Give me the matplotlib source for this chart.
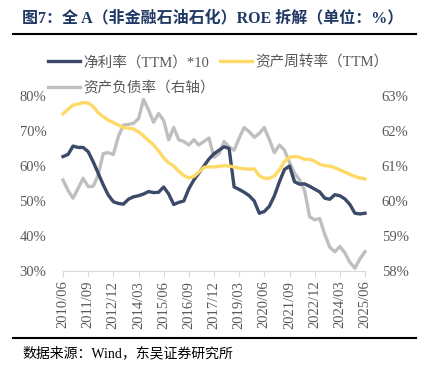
import matplotlib.pyplot as plt
from matplotlib.ticker import FuncFormatter

plt.rcParams['font.family'] = ['Liberation Serif', 'Noto Sans CJK SC']

# quarterly, 2010/06 .. 2025/06
start_year, start_month = 2010, 6
n = 61
dates = []
for i in range(n):
    m = start_month + 3 * i
    y = start_year + (m - 1) // 12
    mm = (m - 1) % 12 + 1
    dates.append(f"{y}/{mm:02d}")

net_margin_x10 = [62.7, 63.3, 65.7, 65.3, 65.3, 64.1, 61.2, 57.9, 54.6, 51.7,
                  49.8, 49.3, 49.1, 50.5, 51.2, 51.5, 52.0, 52.7, 52.4, 52.5,
                  54.0, 52.0, 49.0, 49.6, 50.0, 53.5, 56.0, 58.0, 60.0, 62.0,
                  63.5, 64.5, 65.5, 65.0, 54.0, 53.3, 52.5, 51.5, 50.0, 46.5,
                  47.0, 48.5, 51.5, 55.5, 59.0, 60.0, 55.5, 54.8, 54.9, 54.2,
                  53.4, 52.6, 50.8, 50.5, 51.8, 51.5, 50.6, 49.0, 46.5, 46.3,
                  46.5]
asset_turnover = [74.9, 76.2, 77.4, 77.7, 78.1, 78.0, 77.0, 75.2, 74.1, 73.1,
                  72.4, 71.7, 71.0, 70.8, 70.6, 69.8, 68.6, 67.3, 66.0, 64.3,
                  62.3, 60.9, 60.0, 58.5, 57.3, 56.6, 57.0, 58.3, 59.6, 59.8,
                  59.7, 59.9, 60.1, 60.0, 59.7, 59.4, 59.2, 59.1, 59.2, 57.2,
                  56.5, 56.5, 57.2, 58.9, 61.3, 62.5, 62.7, 62.5, 61.9, 61.9,
                  61.4, 60.5, 60.1, 60.0, 59.5, 58.9, 58.3, 57.6, 57.0, 56.6,
                  56.3]
debt_ratio = [60.6, 60.3, 60.08, 60.36, 60.65, 60.41, 60.42, 60.74, 61.36, 61.38,
              61.33, 61.84, 62.17, 62.19, 62.22, 62.35, 62.9, 62.6, 62.25, 62.5,
              62.3, 61.75, 62.1, 61.75, 61.7, 61.6, 61.75, 61.6, 61.7, 61.8,
              61.25, 61.35, 61.7, 61.55, 61.45, 61.8, 62.1, 61.98, 61.82, 61.93,
              62.1, 61.75, 61.38, 61.6, 61.45, 61.1, 60.8, 60.6, 60.3, 59.55,
              59.46, 59.5, 59.05, 58.68, 58.55, 58.7, 58.52, 58.25, 58.08, 58.35,
              58.55]

navy = "#3A4A68"
yellow = "#FFD966"
gray = "#BFBFBF"
txt = "#595959"

W, H = 433, 376
fig = plt.figure(figsize=(W / 100, H / 100), dpi=100)

ax = fig.add_axes([63 / W, 1 - 271 / H, (365 - 63) / W, 175 / H])
ax2 = ax.twinx()

x = list(range(n))
l1, = ax.plot(x, net_margin_x10, color=navy, lw=2.4, clip_on=False, zorder=3)
l2, = ax.plot(x, asset_turnover, color=yellow, lw=2.4, clip_on=False, zorder=3)
l3, = ax2.plot(x, debt_ratio, color=gray, lw=2.4, clip_on=False, zorder=2)
ax.set_zorder(ax2.get_zorder() + 1)
ax.patch.set_visible(False)

ax.set_xlim(0, n - 1)
ax.set_ylim(30, 80)
ax2.set_ylim(58, 63)
ax.set_yticks(range(30, 81, 10))
ax2.set_yticks(range(58, 64))
ax.yaxis.set_major_formatter(FuncFormatter(lambda v, p: f"{v:.0f}%"))
ax2.yaxis.set_major_formatter(FuncFormatter(lambda v, p: f"{v:.0f}%"))

ticks = list(range(0, n, 5))
ax.set_xticks(ticks)
ax.set_xticklabels([dates[i] for i in ticks], rotation=90, fontsize=10.5, color=txt)

for a in (ax, ax2):
    for s in a.spines.values():
        s.set_visible(False)
ax.spines['bottom'].set_visible(True)
ax.spines['bottom'].set_color("#D9D9D9")
ax.tick_params(axis='x', length=4, color="#D9D9D9", pad=3)
ax.tick_params(axis='y', length=0, labelsize=10.5, labelcolor=txt, pad=12)
ax2.tick_params(axis='y', length=0, labelsize=10.5, labelcolor=txt, pad=12)

# legend
leg_kw = dict(loc='center left', frameon=False, fontsize=10.5, labelcolor=txt,
              handlelength=2.2, handletextpad=0.25, borderpad=0,
              borderaxespad=0)
fig.legend([l1, l2], ["净利率（TTM）*10", "资产周转率（TTM）"], ncol=2,
           bbox_to_anchor=(48 / W, 1 - 62 / H), columnspacing=0.7, **leg_kw)
fig.legend([l3], ["资产负债率（右轴）"],
           bbox_to_anchor=(48 / W, 1 - 88 / H), **leg_kw)

# title and rules
fig.text(22 / W, 1 - 18 / H, "图7：全 A（非金融石油石化）ROE 拆解（单位：%）",
         fontsize=11.5, fontweight='bold', color="#1F3864", va='center', ha='left')
fig.add_artist(plt.Line2D([13 / W, 416 / W], [1 - 34 / H, 1 - 34 / H],
                          color='black', lw=1.5))
fig.add_artist(plt.Line2D([13 / W, 416 / W], [1 - 338 / H, 1 - 338 / H],
                          color='black', lw=1.5))
fig.text(22 / W, 1 - 353 / H, "数据来源：Wind，东吴证券研究所",
         fontsize=10, color='black', va='center', ha='left')

fig.savefig("out.png", dpi=100)
